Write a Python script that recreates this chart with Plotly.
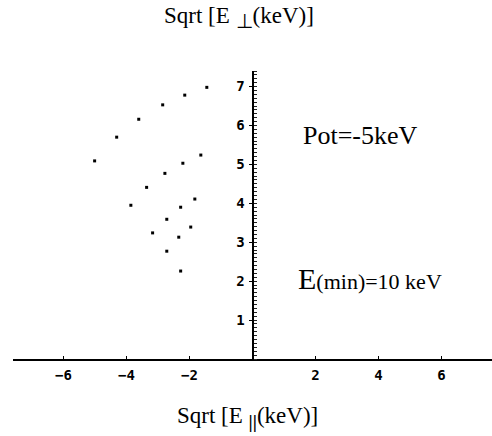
import plotly.graph_objects as go

# Data
x_par = [-1.45, -2.15, -2.85, -3.61, -4.31, -5.01,
         -1.64, -2.21, -2.78, -3.36, -3.86,
         -1.83, -2.28, -2.72, -3.17,
         -1.96, -2.34, -2.72,
         -2.28]
y_perp = [6.98, 6.78, 6.53, 6.16, 5.70, 5.09,
          5.24, 5.03, 4.77, 4.41, 3.95,
          4.11, 3.90, 3.59, 3.24,
          3.39, 3.13, 2.77,
          2.26]
x_ticks = [-6, -4, -2, 2, 4, 6]
y_ticks = [1, 2, 3, 4, 5, 6, 7]
x_range = [-7.6, 7.6]
y_range = [0, 7.4]

W, H = 492, 436
ML, MR, MT, MB = 13, 0, 71, 76.5

fig = go.Figure()
fig.add_trace(go.Scatter(
    x=x_par, y=y_perp, mode="markers",
    marker=dict(symbol="square", size=3, color="black", line=dict(width=0)),
    showlegend=False, hoverinfo="skip"))

tickfont = dict(family="DejaVu Sans Mono", size=14, color="black", weight="bold")

fig.update_layout(
    width=W, height=H,
    margin=dict(l=ML, r=MR, t=MT, b=MB, pad=0),
    paper_bgcolor="white", plot_bgcolor="white",
    xaxis=dict(range=x_range, showgrid=False, zeroline=False,
               showline=True, linecolor="black", linewidth=2,
               ticks="inside", ticklen=3, tickwidth=1, tickcolor="black",
               tickvals=x_ticks, ticktext=[("\u2212" + str(-v)) if v < 0 else str(v) for v in x_ticks],
               tickfont=tickfont, ticklabelstandoff=2, fixedrange=True),
    yaxis=dict(range=y_range, showgrid=False, zeroline=False,
               anchor="free", position=0.5, side="left",
               showline=True, linecolor="black", linewidth=2,
               ticks="outside", ticklen=3, tickwidth=1, tickcolor="black",
               tickvals=y_ticks, tickfont=tickfont, ticklabelstandoff=1,
               minor=dict(ticks="inside", dtick=0.1, ticklen=3, tickwidth=1, tickcolor="#222"),
               fixedrange=True),
)

serif = "Liberation Serif"
fig.add_annotation(x=238.7 / W, y=1 - 17 / H, xref="paper", yref="paper",
                   xanchor="center", yanchor="middle", showarrow=False,
                   text="Sqrt [E <sub><span style=\"font-size:20px\">\u22a5</span></sub>(keV)]",
                   font=dict(family=serif, size=23, color="black"))
fig.add_annotation(x=248 / W, y=1 - 418 / H, xref="paper", yref="paper",
                   xanchor="center", yanchor="middle", showarrow=False,
                   text="Sqrt [E <sub><span style=\"font-size:19px\"><b>||</b></span></sub>(keV)]",
                   font=dict(family=serif, size=23, color="black"))
fig.add_annotation(x=1.55, y=5.73, xref="x", yref="y",
                   xanchor="left", yanchor="middle", showarrow=False,
                   text="Pot=-5keV",
                   font=dict(family=serif, size=26, color="black"))
fig.add_annotation(x=1.38, y=2.06, xref="x", yref="y",
                   xanchor="left", yanchor="middle", showarrow=False,
                   text="<span style=\"font-size:30px\">E</span>(min)=10 keV",
                   font=dict(family=serif, size=22, color="black"))

# title positions given in pixel fractions of the whole page -> convert to plot-area paper fractions
for a in fig.layout.annotations[:2]:
    px = a.x * W
    py = (1 - a.y) * H
    a.x = (px - ML) / (W - ML - MR)
    a.y = (H - MB - py) / (H - MT - MB)

fig.write_html("out.html")
